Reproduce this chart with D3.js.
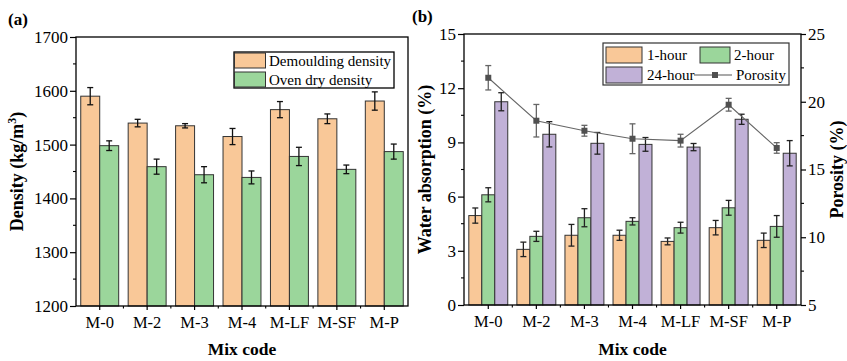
<!DOCTYPE html>
<html>
<head>
<meta charset="utf-8">
<script src="https://cdn.jsdelivr.net/npm/d3@7"></script>
<style>
  html, body { margin: 0; padding: 0; background: #fff; }
  svg { display: block; }
  svg text { font-family: 'Times New Roman', 'Liberation Serif', 'DejaVu Serif', serif !important; fill: #000; }
</style>
</head>
<body>
<svg id="chart" width="847" height="361"></svg>
<script>
// Mix designs
const mixes = ["M-0", "M-2", "M-3", "M-4", "M-LF", "M-SF", "M-P"];

// (a) densities, kg/m3
const demouldingDensity    = [1590, 1540, 1535, 1515, 1565, 1548, 1581];
const demouldingDensityErr = [16, 7, 4, 15, 15, 9, 17];
const ovenDryDensity       = [1498, 1459, 1444, 1439, 1478, 1454, 1487];
const ovenDryDensityErr    = [9, 14, 15, 12, 17, 8, 14];
const densityTicks = [1200, 1300, 1400, 1500, 1600, 1700];

// (b) water absorption, %
const absorption1h     = [4.95, 3.08, 3.86, 3.86, 3.52, 4.28, 3.58];
const absorption1hErr  = [0.42, 0.40, 0.60, 0.28, 0.19, 0.40, 0.40];
const absorption2h     = [6.10, 3.80, 4.83, 4.63, 4.28, 5.38, 4.35];
const absorption2hErr  = [0.39, 0.28, 0.50, 0.20, 0.30, 0.41, 0.60];
const absorption24h    = [11.25, 9.45, 8.95, 8.89, 8.74, 10.28, 8.40];
const absorption24hErr = [0.50, 0.70, 0.60, 0.38, 0.20, 0.28, 0.70];
const absorptionTicks = [0, 3, 6, 9, 12, 15];

// (b) porosity, %
const porosity    = [21.77, 18.60, 17.86, 17.27, 17.13, 19.78, 16.59];
const porosityErr = [0.90, 1.20, 0.40, 1.10, 0.47, 0.47, 0.39];
const porosityTicks = [5, 10, 15, 20, 25];

const ORANGE = "#f9c898", GREEN = "#9bd69b", PURPLE = "#c1b1d7";
const BAR_STROKE = "#333";
const SERIF = "'Times New Roman', 'Liberation Serif', 'DejaVu Serif', serif";

const svg = d3.select("#chart");
svg.append("rect").attr("width", 847).attr("height", 361).attr("fill", "#fff");

function frame(g, x0, x1, y0, y1) {
  g.append("rect").attr("x", x0).attr("y", y0).attr("width", x1 - x0).attr("height", y1 - y0)
    .attr("fill", "none").attr("stroke", "#000").attr("stroke-width", 1.3);
}

function leftAxis(g, y, x0, ticks, minorStep, fmt) {
  const ax = g.append("g").attr("transform", `translate(${x0},0)`)
    .call(d3.axisLeft(y).tickValues(ticks).tickSize(6).tickPadding(2).tickFormat(fmt));
  ax.attr("font-family", SERIF);
  ax.select(".domain").remove();
  ax.selectAll("line").attr("stroke", "#000").attr("stroke-width", 1.2);
  ax.selectAll("text").attr("font-size", 17).style("font-family", SERIF);
  const [lo, hi] = y.domain();
  const minors = d3.range(lo + minorStep, hi, minorStep * 2);
  g.selectAll(null).data(minors).join("line")
    .attr("x1", x0 - 3).attr("x2", x0).attr("y1", d => y(d)).attr("y2", d => y(d))
    .attr("stroke", "#000").attr("stroke-width", 1.1);
}

function bottomAxis(g, x, y0) {
  const ax = g.append("g").attr("transform", `translate(0,${y0})`)
    .call(d3.axisBottom(x).tickSize(4).tickPadding(6));
  ax.attr("font-family", SERIF);
  ax.select(".domain").remove();
  ax.selectAll("line").attr("stroke", "#000").attr("stroke-width", 1.2);
  ax.selectAll("text").attr("font-size", 16.5).style("font-family", SERIF);
  // short ticks between neighbouring groups
  const bounds = mixes.slice(1).map(m => x(m) - x.step() * x.paddingInner() / 2);
  g.selectAll(null).data(bounds).join("line")
    .attr("x1", d => d).attr("x2", d => d).attr("y1", y0).attr("y2", y0 + 2.5)
    .attr("stroke", "#000").attr("stroke-width", 1.1);
}

function errorBars(g, xs, vals, errs, y, color, cap) {
  const data = vals.map((v, i) => ({ x: xs[i], v, e: errs[i] }));
  const eg = g.append("g").attr("stroke", color).attr("stroke-width", 1.3);
  eg.selectAll(null).data(data).join("line")
    .attr("x1", d => d.x).attr("x2", d => d.x)
    .attr("y1", d => y(d.v - d.e)).attr("y2", d => y(d.v + d.e));
  eg.selectAll(null).data(data.flatMap(d => [{ x: d.x, v: d.v - d.e }, { x: d.x, v: d.v + d.e }])).join("line")
    .attr("x1", d => d.x - cap).attr("x2", d => d.x + cap)
    .attr("y1", d => y(d.v)).attr("y2", d => y(d.v));
}

function barSeries(g, xInner, x, y, vals, key, color, y0) {
  g.append("g").selectAll("rect").data(vals).join("rect")
    .attr("x", (d, i) => x(mixes[i]) + xInner(key))
    .attr("y", d => y(d))
    .attr("width", xInner.bandwidth())
    .attr("height", d => y0 - y(d))
    .attr("fill", color).attr("stroke", BAR_STROKE).attr("stroke-width", 1);
}

function txt(g) {
  return g.append("text").style("font-family", SERIF);
}

function titleY(g, text, cx, cy, sup) {
  const t = txt(g).attr("transform", `translate(${cx},${cy}) rotate(-90)`)
    .attr("text-anchor", "middle").attr("font-weight", "bold").attr("font-size", 18);
  if (sup) {
    t.append("tspan").text(text);
    t.append("tspan").attr("font-size", 12).attr("dy", -7).text(sup);
    t.append("tspan").attr("dy", 7).text(")");
  } else t.text(text);
}

// ---------- Panel (a): density ----------
{
  const L = 76, R = 408, T = 37, B = 306;
  const g = svg.append("g");
  const x = d3.scaleBand().domain(mixes).range([L, R]).paddingInner(0.2).paddingOuter(0.1);
  const keys = ["demould", "oven"];
  const xi = d3.scaleBand().domain(keys).range([0, x.bandwidth()]);
  const y = d3.scaleLinear().domain([1200, 1700]).range([B, T]);

  barSeries(g, xi, x, y, demouldingDensity, "demould", ORANGE, B);
  barSeries(g, xi, x, y, ovenDryDensity, "oven", GREEN, B);
  errorBars(g, mixes.map(m => x(m) + xi("demould") + xi.bandwidth() / 2), demouldingDensity, demouldingDensityErr, y, "#111", 3);
  errorBars(g, mixes.map(m => x(m) + xi("oven") + xi.bandwidth() / 2), ovenDryDensity, ovenDryDensityErr, y, "#111", 3);

  frame(g, L, R, T, B);
  leftAxis(g, y, L, densityTicks, 50, d3.format("d"));
  bottomAxis(g, x, B);

  titleY(g, "Density (kg/m", 23, (T + B) / 2, "3");
  txt(g).attr("x", (L + R) / 2).attr("y", 355).attr("text-anchor", "middle")
    .attr("font-weight", "bold").attr("font-size", 17.5).text("Mix code");
  txt(g).attr("x", 8).attr("y", 25).attr("font-weight", "bold").attr("font-size", 17).text("(a)");

  // legend
  const lg = g.append("g");
  lg.append("rect").attr("x", 234).attr("y", 52).attr("width", 160).attr("height", 36)
    .attr("fill", "#fff").attr("stroke", "#000").attr("stroke-width", 1.3);
  const items = [["Demoulding density", ORANGE], ["Oven dry density", GREEN]];
  items.forEach(([label, c], i) => {
    lg.append("rect").attr("x", 234.5).attr("y", 53 + i * 19).attr("width", 31).attr("height", 15)
      .attr("fill", c).attr("stroke", BAR_STROKE).attr("stroke-width", 1);
    txt(lg).attr("x", 269).attr("y", 65.5 + i * 19).attr("font-size", 15).text(label);
  });
}

// ---------- Panel (b): water absorption & porosity ----------
{
  const L = 464, R = 801, T = 34, B = 305;
  const g = svg.append("g");
  const x = d3.scaleBand().domain(mixes).range([L, R]).paddingInner(0.19).paddingOuter(0.1);
  const keys = ["h1", "h2", "h24"];
  const xi = d3.scaleBand().domain(keys).range([0, x.bandwidth()]);
  const y = d3.scaleLinear().domain([0, 15]).range([B, T]);
  const yp = d3.scaleLinear().domain([5, 25]).range([B, T]);

  barSeries(g, xi, x, y, absorption1h, "h1", ORANGE, B);
  barSeries(g, xi, x, y, absorption2h, "h2", GREEN, B);
  barSeries(g, xi, x, y, absorption24h, "h24", PURPLE, B);
  const cx = k => mixes.map(m => x(m) + xi(k) + xi.bandwidth() / 2);
  errorBars(g, cx("h1"), absorption1h, absorption1hErr, y, "#222", 3);
  errorBars(g, cx("h2"), absorption2h, absorption2hErr, y, "#222", 3);
  errorBars(g, cx("h24"), absorption24h, absorption24hErr, y, "#222", 3);

  // porosity line on the secondary axis
  const px = mixes.map(m => x(m) + x.bandwidth() / 2);
  const pts = porosity.map((p, i) => [px[i], yp(p)]);
  g.append("path").attr("d", d3.line()(pts)).attr("fill", "none").attr("stroke", "#666").attr("stroke-width", 1.1);
  errorBars(g, px, porosity, porosityErr, yp, "#666", 3);
  g.append("g").selectAll("rect").data(pts).join("rect")
    .attr("x", d => d[0] - 3).attr("y", d => d[1] - 3).attr("width", 6).attr("height", 6)
    .attr("fill", "#505050");

  frame(g, L, R, T, B);
  leftAxis(g, y, L, absorptionTicks, 1.5, d3.format("d"));
  bottomAxis(g, x, B);

  // right axis
  const ar = g.append("g").attr("transform", `translate(${R},0)`)
    .call(d3.axisRight(yp).tickValues(porosityTicks).tickSize(5).tickPadding(2).tickFormat(d3.format("d")));
  ar.attr("font-family", SERIF);
  ar.select(".domain").remove();
  ar.selectAll("line").attr("stroke", "#000").attr("stroke-width", 1.2);
  ar.selectAll("text").attr("font-size", 17).style("font-family", SERIF);
  g.selectAll(null).data(d3.range(7.5, 25, 5)).join("line")
    .attr("x1", R).attr("x2", R + 3).attr("y1", d => yp(d)).attr("y2", d => yp(d))
    .attr("stroke", "#000").attr("stroke-width", 1.1);

  titleY(g, "Water absorption (%)", 431, (T + B) / 2);
  txt(g).attr("transform", `translate(843,${(T + B) / 2}) rotate(-90)`)
    .attr("text-anchor", "middle").attr("font-weight", "bold").attr("font-size", 18).text("Porosity (%)");
  txt(g).attr("x", (L + R) / 2).attr("y", 355).attr("text-anchor", "middle")
    .attr("font-weight", "bold").attr("font-size", 17.5).text("Mix code");
  txt(g).attr("x", 412).attr("y", 22).attr("font-weight", "bold").attr("font-size", 17).text("(b)");

  // legend
  const lg = g.append("g");
  lg.append("rect").attr("x", 603).attr("y", 43).attr("width", 186).attr("height", 42)
    .attr("fill", "#fff").attr("stroke", "#333").attr("stroke-width", 1.2);
  const sw = [[606, 47, ORANGE, "1-hour", 647, 36], [700, 47, GREEN, "2-hour", 734, 30], [606, 67, PURPLE, "24-hour", 647, 36]];
  sw.forEach(([sx, sy, c, label, tx, w]) => {
    lg.append("rect").attr("x", sx).attr("y", sy).attr("width", w).attr("height", 16)
      .attr("fill", c).attr("stroke", BAR_STROKE).attr("stroke-width", 1);
    txt(lg).attr("x", tx).attr("y", sy + 13).attr("font-size", 15).text(label);
  });
  lg.append("line").attr("x1", 694).attr("x2", 732).attr("y1", 75).attr("y2", 75)
    .attr("stroke", "#555").attr("stroke-width", 1.1);
  lg.append("rect").attr("x", 712).attr("y", 72).attr("width", 6).attr("height", 6).attr("fill", "#505050");
  txt(lg).attr("x", 736).attr("y", 80).attr("font-size", 15).text("Porosity");
}
</script>
</body>
</html>
